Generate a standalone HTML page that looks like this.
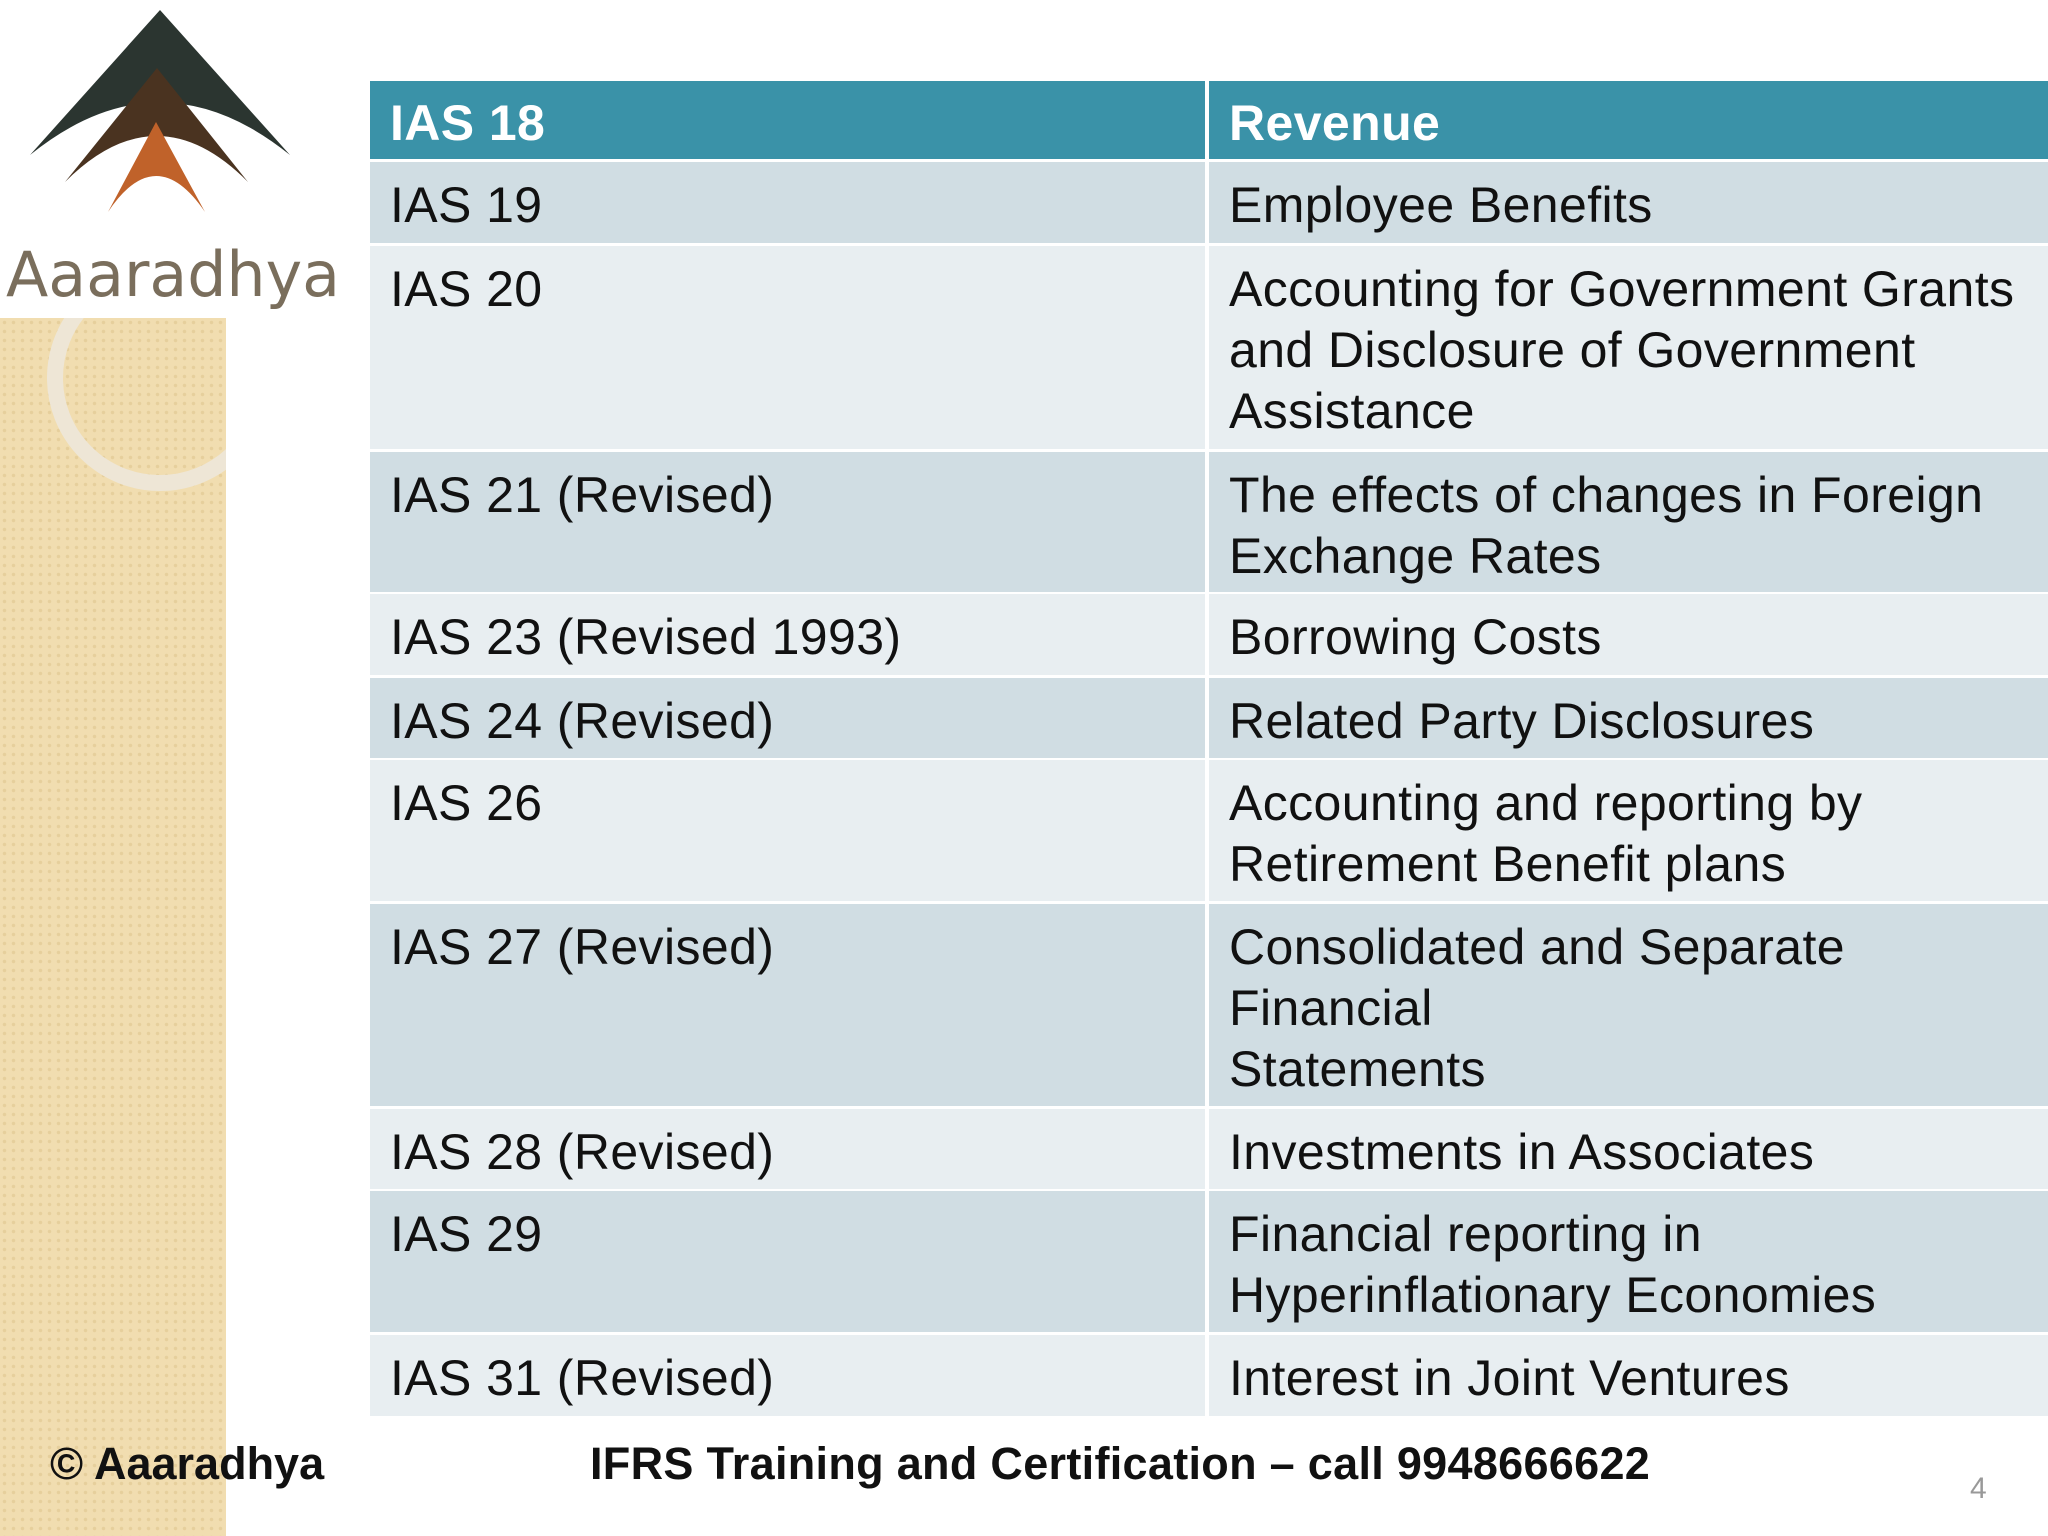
<!DOCTYPE html>
<html><head><meta charset="utf-8"><style>
body{margin:0;width:2048px;height:1536px;background:#fff;position:relative;overflow:hidden;font-family:"Liberation Sans",sans-serif}
.strip{position:absolute;left:0;top:318px;width:226px;height:1218px;background-color:#f1ddb0;background-image:radial-gradient(circle,#e6cf9c 1.5px,transparent 2px);background-size:9px 9px}
.row,.hd{position:absolute;left:370px;width:1678px;display:flex}
.c{box-sizing:border-box;padding:13px 0 0 20px;font-size:50px;line-height:61px;color:#111;letter-spacing:0.4px}
.c1{width:835px;margin-right:4px}.c2{flex:1}
.hd .c{background:#3a92a8;color:#fff;font-weight:bold;padding-top:12px}
.d .c{background:#d0dde3}.l .c{background:#e8eef1}
.foot{position:absolute;top:1438px;font-size:45px;font-weight:bold;color:#111}
</style></head><body>
<div class="strip"></div>
<svg style="position:absolute;left:0;top:318px" width="226" height="200">
<circle cx="160" cy="60" r="105" fill="none" stroke="#eee6d6" stroke-width="16"/>
</svg>
<svg style="position:absolute;left:0;top:0" width="345" height="318">
<rect width="345" height="318" fill="#fff"/>
<path d="M30 155 L160 10 L290 155 Q160 50 30 155Z" fill="#2b3530"/>
<path d="M65 182 L157 68 L248 182 Q157 90 65 182Z" fill="#4a3320"/>
<path d="M108 212 L156 122 L205 212 Q156 140 108 212Z" fill="#c0622a"/>
<text x="6" y="296" font-family="DejaVu Sans,sans-serif" font-size="62" fill="#7a6e5c" textLength="334" lengthAdjust="spacingAndGlyphs">Aaaradhya</text>
</svg>
<div class="hd" style="top:81px;height:78px"><div class="c c1">IAS 18</div><div class="c c2">Revenue</div></div>
<div class="row d" style="top:162px;height:81px"><div class="c c1">IAS 19</div><div class="c c2">Employee Benefits</div></div>
<div class="row l" style="top:246px;height:203px"><div class="c c1">IAS 20</div><div class="c c2">Accounting for Government Grants<br>and Disclosure of Government<br>Assistance</div></div>
<div class="row d" style="top:452px;height:140px"><div class="c c1">IAS 21 (Revised)</div><div class="c c2">The effects of changes in Foreign<br>Exchange Rates</div></div>
<div class="row l" style="top:594px;height:81px"><div class="c c1">IAS 23 (Revised 1993)</div><div class="c c2">Borrowing Costs</div></div>
<div class="row d" style="top:678px;height:80px"><div class="c c1">IAS 24 (Revised)</div><div class="c c2">Related Party Disclosures</div></div>
<div class="row l" style="top:760px;height:141px"><div class="c c1">IAS 26</div><div class="c c2">Accounting and reporting by<br>Retirement Benefit plans</div></div>
<div class="row d" style="top:904px;height:202px"><div class="c c1">IAS 27 (Revised)</div><div class="c c2">Consolidated and Separate<br>Financial<br>Statements</div></div>
<div class="row l" style="top:1109px;height:80px"><div class="c c1">IAS 28 (Revised)</div><div class="c c2">Investments in Associates</div></div>
<div class="row d" style="top:1191px;height:141px"><div class="c c1">IAS 29</div><div class="c c2">Financial reporting in<br>Hyperinflationary Economies</div></div>
<div class="row l" style="top:1335px;height:81px"><div class="c c1">IAS 31 (Revised)</div><div class="c c2">Interest in Joint Ventures</div></div>
<div class="foot" style="left:50px">© Aaaradhya</div>
<div class="foot" style="left:590px;letter-spacing:0.3px">IFRS Training and Certification – call 9948666622</div>
<div style="position:absolute;left:1970px;top:1472px;font-size:30px;color:#999">4</div>
</body></html>
